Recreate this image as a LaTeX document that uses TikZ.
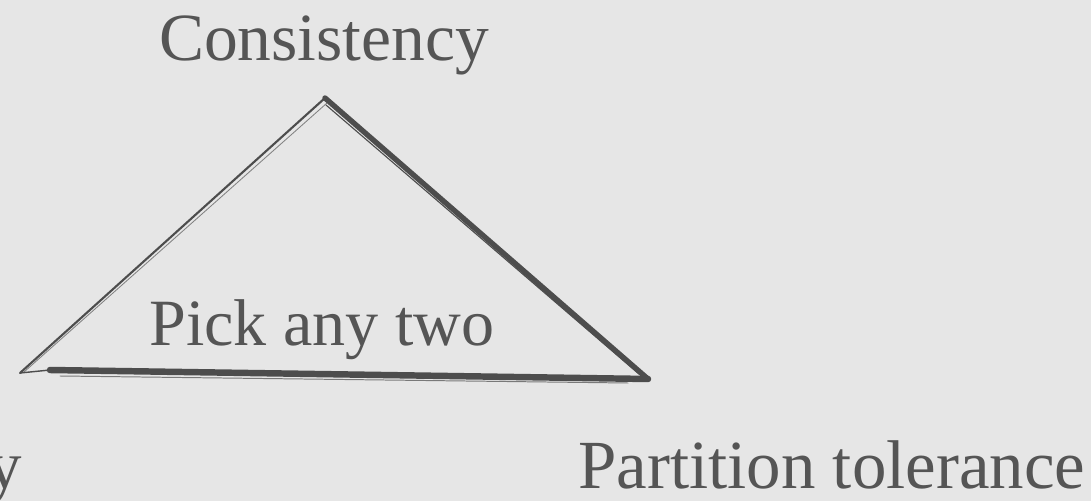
\documentclass[tikz,border=0pt]{standalone}
\usepackage{fontspec}
\setmainfont{Liberation Serif}
\usepackage{tikz}
\usepackage{xcolor}
\usetikzlibrary{positioning, calc}
\definecolor{cBg}{RGB}{230,230,230}
\definecolor{cInk}{RGB}{77,77,77}
\definecolor{cText}{RGB}{85,85,85}
\tikzset{
	corner/.style={font=\fontsize{49}{58}\selectfont, text=cText, inner sep=0pt},
	inside/.style={font=\fontsize{47}{56}\selectfont, text=cText, inner sep=0pt},
	thinedge/.style={draw=cInk, line width=1.5pt, line cap=round},
	thickedge/.style={draw=cInk, line width=3.8pt, line cap=round},
}
\begin{document}
\begin{tikzpicture}[x=0.025cm, y=0.025cm]
	\fill[cBg] (0,0) rectangle (1091,501);
	\useasboundingbox (0,0) rectangle (1091,501);
	\clip (0,0) rectangle (1091,501);
	\coordinate (top) at (325,403);
	\coordinate (bl) at (20,128);
	\coordinate (br) at (648,122);
	\node[corner, font=\fontsize{48}{58}\selectfont, anchor=base] (c) at (324,440) {Consistency};
	\node[inside, anchor=base] (pick) at (322,156) {Pick any two};
	\node[corner, anchor=base west] (p) at (578,13) {Partition tolerance};
	\node[corner, anchor=base east] (a) at (22,13) {Availability};
	% brush-like triangle
	\draw[thinedge] (bl) -- (top);
	\draw[thinedge, line width=0.6pt, cInk!70] ($(bl)+(4,1)$) -- ($(top)+(2,-5)$);
	\draw[thickedge] (top) -- (br);
	\draw[thinedge, line width=0.8pt] ($(top)+(1,-7)$) -- ($(br)+(-9,5)$);
	\draw[thickedge, line width=4.6pt] (br) -- ($(bl)+(30,3)$);
	\draw[thinedge, line width=1pt] ($(bl)+(30,3)$) -- (bl);
	\draw[thinedge, line width=0.7pt, cInk!75] ($(br)+(-20,-4)$) -- ($(bl)+(40,-3)$);
\end{tikzpicture}
\end{document}
